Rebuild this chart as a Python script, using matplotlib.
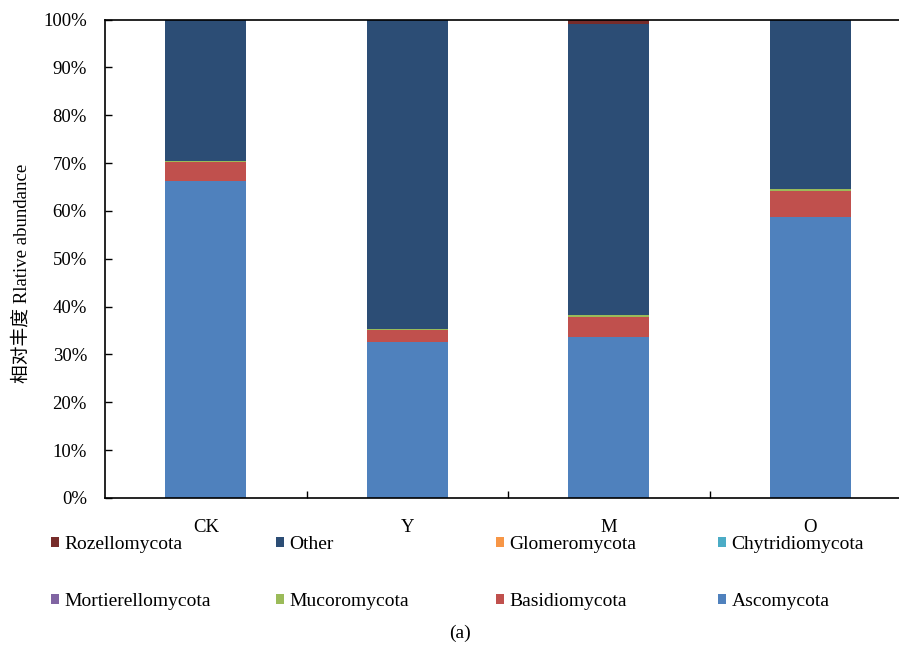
import matplotlib
matplotlib.use("Agg")
import matplotlib.pyplot as plt
import numpy as np

plt.rcParams['font.family'] = ['Liberation Serif', 'Noto Sans CJK SC']

groups = ["CK", "Y", "M", "O"]

# relative abundance (%), stacked bottom -> top
ascomycota = [66.2, 32.7, 33.6, 58.7]
basidiomycota = [4.0, 2.4, 4.2, 5.5]
mortierellomycota = [0.05, 0.05, 0.05, 0.05]
mucoromycota = [0.1, 0.1, 0.3, 0.3]
chytridiomycota = [0.02, 0.02, 0.02, 0.02]
glomeromycota = [0.05, 0.05, 0.05, 0.1]
other = [29.5, 64.6, 60.85, 35.25]
rozellomycota = [0.05, 0.05, 0.9, 0.05]

series = [
    ("Ascomycota", ascomycota, "#4F81BD"),
    ("Basidiomycota", basidiomycota, "#C0504D"),
    ("Mortierellomycota", mortierellomycota, "#8064A2"),
    ("Mucoromycota", mucoromycota, "#9BBB59"),
    ("Chytridiomycota", chytridiomycota, "#4BACC6"),
    ("Glomeromycota", glomeromycota, "#F79646"),
    ("Other", other, "#2C4D75"),
    ("Rozellomycota", rozellomycota, "#772C2A"),
]

fig = plt.figure(figsize=(8.99, 6.46), dpi=100)
ax = fig.add_axes([105 / 899, 1 - 498 / 646, (911 - 105) / 899, (498 - 19.5) / 646])

x = np.arange(len(groups))
bottom = np.zeros(len(groups))
handles = {}
for name, vals, col in series:
    vals = np.array(vals)
    b = ax.bar(x, vals, 0.4, bottom=bottom, color=col, label=name, linewidth=0)
    handles[name] = b
    bottom += vals

ax.set_xlim(-0.5, len(groups) - 0.5)
ax.set_ylim(0, 100)
ax.set_yticks(np.arange(0, 101, 10))
ax.set_yticklabels([f"{v}%" for v in range(0, 101, 10)], fontsize=13.5)
ax.tick_params(axis='y', direction='in', length=5, width=1, pad=13)

# category boundaries as ticks, labels in the middle
ax.set_xticks(np.arange(0.5, len(groups) - 0.5, 1))
ax.set_xticklabels([])
ax.set_xticks(x, minor=True)
ax.set_xticklabels(groups, minor=True, fontsize=13.5)
ax.tick_params(axis='x', which='major', direction='in', length=5, width=1)
ax.tick_params(axis='x', which='minor', length=0, pad=15)

for s in ax.spines.values():
    s.set_linewidth(1.2)
    s.set_color('black')

fig.text(22 / 899, 1 - 273 / 646, "相对丰度 Rlative abundance", rotation=90,
         ha='center', va='center', fontsize=13.5)

# legend laid out in 4 columns, 2 rows
cols = [["Rozellomycota", "Mortierellomycota"],
        ["Other", "Mucoromycota"],
        ["Glomeromycota", "Basidiomycota"],
        ["Chytridiomycota", "Ascomycota"]]
col_x = [51, 276, 496, 718]
for cx, names in zip(col_x, cols):
    leg = fig.legend([handles[n] for n in names], names, loc='upper left',
                     bbox_to_anchor=(cx / 899, 1 - 536 / 646), frameon=False,
                     fontsize=14, handlelength=0.4, handleheight=0.4,
                     handletextpad=0.3, labelspacing=2.05, borderpad=0,
                     borderaxespad=0)

fig.text(460 / 899, 1 - 633 / 646, "(a)", ha='center', va='center', fontsize=14)

fig.savefig("out.png", dpi=100)
plt.close(fig)
